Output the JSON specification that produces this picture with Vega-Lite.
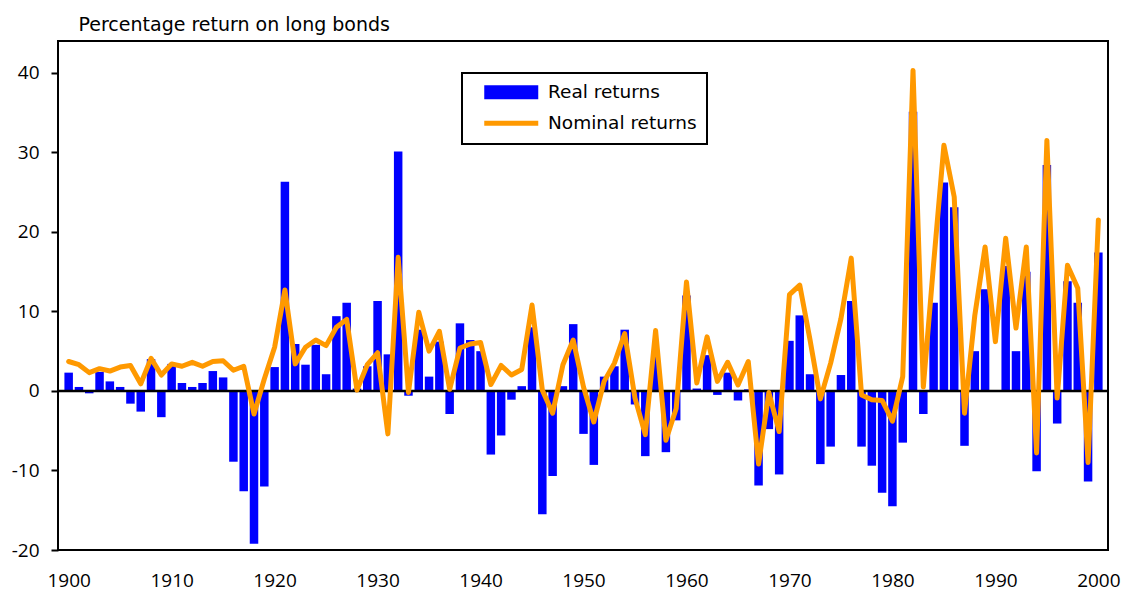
{
  "$schema": "https://vega.github.io/schema/vega-lite/v6.json",
  "width": 1050,
  "height": 509,
  "autosize": "none",
  "padding": {"left": 58, "top": 41, "right": 24, "bottom": 43},
  "background": "white",
  "config": {
    "font": "Open Sans",
    "view": {"stroke": "black", "strokeWidth": 2},
    "axis": {"labelFont": "Open Sans", "labelFontSize": 19, "labelColor": "black", "grid": false, "domain": false}
  },
  "data": {
    "values": [
      {"year": 1900, "real": 2.3, "nominal": 3.7},
      {"year": 1901, "real": 0.5, "nominal": 3.3},
      {"year": 1902, "real": -0.3, "nominal": 2.3},
      {"year": 1903, "real": 2.4, "nominal": 2.8},
      {"year": 1904, "real": 1.2, "nominal": 2.5},
      {"year": 1905, "real": 0.5, "nominal": 3.0},
      {"year": 1906, "real": -1.6, "nominal": 3.2},
      {"year": 1907, "real": -2.6, "nominal": 0.9},
      {"year": 1908, "real": 4.0, "nominal": 4.1},
      {"year": 1909, "real": -3.3, "nominal": 2.0},
      {"year": 1910, "real": 3.4, "nominal": 3.4},
      {"year": 1911, "real": 1.0, "nominal": 3.1},
      {"year": 1912, "real": 0.5, "nominal": 3.6},
      {"year": 1913, "real": 1.0, "nominal": 3.1},
      {"year": 1914, "real": 2.5, "nominal": 3.7},
      {"year": 1915, "real": 1.7, "nominal": 3.8},
      {"year": 1916, "real": -8.9, "nominal": 2.6},
      {"year": 1917, "real": -12.6, "nominal": 3.1},
      {"year": 1918, "real": -19.2, "nominal": -2.9},
      {"year": 1919, "real": -12.0, "nominal": 1.5},
      {"year": 1920, "real": 3.0, "nominal": 5.5},
      {"year": 1921, "real": 26.3, "nominal": 12.7},
      {"year": 1922, "real": 5.9, "nominal": 3.4},
      {"year": 1923, "real": 3.3, "nominal": 5.5},
      {"year": 1924, "real": 5.8, "nominal": 6.4},
      {"year": 1925, "real": 2.1, "nominal": 5.7},
      {"year": 1926, "real": 9.4, "nominal": 8.0},
      {"year": 1927, "real": 11.1, "nominal": 9.0},
      {"year": 1928, "real": 0.3, "nominal": 0.1},
      {"year": 1929, "real": 3.1, "nominal": 3.3},
      {"year": 1930, "real": 11.3, "nominal": 4.8},
      {"year": 1931, "real": 4.6, "nominal": -5.4},
      {"year": 1932, "real": 30.1, "nominal": 16.8},
      {"year": 1933, "real": -0.6, "nominal": -0.2},
      {"year": 1934, "real": 7.7, "nominal": 9.9},
      {"year": 1935, "real": 1.8, "nominal": 5.0},
      {"year": 1936, "real": 6.2, "nominal": 7.5},
      {"year": 1937, "real": -2.9, "nominal": 0.2},
      {"year": 1938, "real": 8.5, "nominal": 5.4},
      {"year": 1939, "real": 6.4, "nominal": 5.9},
      {"year": 1940, "real": 5.0, "nominal": 6.1},
      {"year": 1941, "real": -8.0, "nominal": 0.8},
      {"year": 1942, "real": -5.6, "nominal": 3.2},
      {"year": 1943, "real": -1.1, "nominal": 2.0},
      {"year": 1944, "real": 0.6, "nominal": 2.7},
      {"year": 1945, "real": 8.0, "nominal": 10.8},
      {"year": 1946, "real": -15.5, "nominal": 0.1},
      {"year": 1947, "real": -10.7, "nominal": -2.8},
      {"year": 1948, "real": 0.6, "nominal": 3.3},
      {"year": 1949, "real": 8.4, "nominal": 6.4},
      {"year": 1950, "real": -5.4, "nominal": 0.5},
      {"year": 1951, "real": -9.3, "nominal": -3.9},
      {"year": 1952, "real": 1.8, "nominal": 1.2},
      {"year": 1953, "real": 3.1, "nominal": 3.5},
      {"year": 1954, "real": 7.7, "nominal": 7.2},
      {"year": 1955, "real": -1.7, "nominal": -0.9},
      {"year": 1956, "real": -8.2, "nominal": -5.5},
      {"year": 1957, "real": 4.5, "nominal": 7.6},
      {"year": 1958, "real": -7.7, "nominal": -6.2},
      {"year": 1959, "real": -3.7, "nominal": -2.2},
      {"year": 1960, "real": 12.0, "nominal": 13.7},
      {"year": 1961, "real": 0.3, "nominal": 1.0},
      {"year": 1962, "real": 4.5, "nominal": 6.8},
      {"year": 1963, "real": -0.5, "nominal": 1.2},
      {"year": 1964, "real": 2.3, "nominal": 3.6},
      {"year": 1965, "real": -1.2, "nominal": 0.75},
      {"year": 1966, "real": 0.2, "nominal": 3.7},
      {"year": 1967, "real": -11.9, "nominal": -9.2},
      {"year": 1968, "real": -4.8, "nominal": -0.2},
      {"year": 1969, "real": -10.5, "nominal": -5.1},
      {"year": 1970, "real": 6.3, "nominal": 12.1},
      {"year": 1971, "real": 9.5, "nominal": 13.3},
      {"year": 1972, "real": 2.1, "nominal": 6.4},
      {"year": 1973, "real": -9.2, "nominal": -1.0},
      {"year": 1974, "real": -7.0, "nominal": 3.5},
      {"year": 1975, "real": 2.0, "nominal": 9.1},
      {"year": 1976, "real": 11.3, "nominal": 16.7},
      {"year": 1977, "real": -7.0, "nominal": -0.5},
      {"year": 1978, "real": -9.4, "nominal": -1.1},
      {"year": 1979, "real": -12.8, "nominal": -1.2},
      {"year": 1980, "real": -14.5, "nominal": -3.8},
      {"year": 1981, "real": -6.5, "nominal": 1.8},
      {"year": 1982, "real": 35.1, "nominal": 40.3},
      {"year": 1983, "real": -2.9, "nominal": 0.5},
      {"year": 1984, "real": 11.1, "nominal": 16.0},
      {"year": 1985, "real": 26.2, "nominal": 30.9},
      {"year": 1986, "real": 23.1, "nominal": 24.4},
      {"year": 1987, "real": -6.9, "nominal": -2.8},
      {"year": 1988, "real": 5.0, "nominal": 9.5},
      {"year": 1989, "real": 12.8, "nominal": 18.1},
      {"year": 1990, "real": 0.1, "nominal": 6.2},
      {"year": 1991, "real": 15.7, "nominal": 19.2},
      {"year": 1992, "real": 5.0, "nominal": 7.9},
      {"year": 1993, "real": 15.0, "nominal": 18.1},
      {"year": 1994, "real": -10.1, "nominal": -7.8},
      {"year": 1995, "real": 28.4, "nominal": 31.5},
      {"year": 1996, "real": -4.1, "nominal": -0.9},
      {"year": 1997, "real": 13.8, "nominal": 15.8},
      {"year": 1998, "real": 11.1, "nominal": 12.9},
      {"year": 1999, "real": -11.4, "nominal": -9.0},
      {"year": 2000, "real": 17.4, "nominal": 21.5}
    ]
  },
  "layer": [
    {
      "mark": {"type": "bar", "width": 8.5},
      "encoding": {
        "x": {
          "field": "year", "type": "quantitative",
          "scale": {"domain": [1899.45, 2000.45], "nice": false, "zero": false},
          "axis": {
            "values": [1900, 1910, 1920, 1930, 1940, 1950, 1960, 1970, 1980, 1990, 2000],
            "labelExpr": "'' + datum.value",
            "tickSize": 0, "labelPadding": 21, "title": null, "labelFlush": false
          }
        },
        "y": {
          "field": "real", "type": "quantitative",
          "scale": {"domain": [-20, 44], "nice": false},
          "axis": {
            "values": [-20, -10, 0, 10, 20, 30, 40],
            "labelExpr": "'' + datum.value",
            "tickSize": 7, "tickWidth": 2, "tickColor": "black", "labelPadding": 12,
            "title": "Percentage return on long bonds",
            "titleAngle": 0, "titleAlign": "left", "titleBaseline": "alphabetic",
            "titleX": 20, "titleY": -11, "titleFontSize": 19, "titleFontWeight": "normal",
            "titleColor": "black", "titleFont": "DejaVu Sans"
          }
        },
        "color": {
          "datum": "Real returns",
          "scale": {"domain": ["Real returns", "Nominal returns"], "range": ["#0000FF", "#FF9900"]},
          "legend": {
            "title": null,
            "orient": "none", "legendX": 404, "legendY": 32,
            "direction": "vertical",
            "symbolSize": 2916,
            "symbolOffset": 30,
            "labelFontSize": 18.5, "labelFont": "DejaVu Sans", "labelColor": "black",
            "labelOffset": 27.5, "rowPadding": 11, "padding": 10,
            "strokeColor": "black", "fillColor": "white",
            "encode": {
              "legend": {"update": {"strokeWidth": {"value": 2}}},
              "symbols": {
                "update": {
                  "size": {"value": 2916},
                  "shape": {"signal": "datum.value === 'Real returns' ? 'M-1,-0.26H1V0.26H-1Z' : 'M-1,0H1'"},
                  "fill": {"signal": "datum.value === 'Real returns' ? '#0000FF' : 'transparent'"},
                  "stroke": {"signal": "datum.value === 'Real returns' ? 'transparent' : '#FF9900'"},
                  "strokeWidth": {"signal": "datum.value === 'Real returns' ? 0 : 5"},
                  "opacity": {"value": 1}
                }
              }
            }
          }
        }
      }
    },
    {
      "data": {"values": [{}]},
      "mark": {"type": "rule", "color": "black", "strokeWidth": 2.5},
      "encoding": {"y": {"datum": 0}}
    },
    {
      "mark": {"type": "line", "strokeWidth": 5, "strokeJoin": "round", "strokeCap": "round"},
      "encoding": {
        "x": {"field": "year", "type": "quantitative"},
        "y": {"field": "nominal", "type": "quantitative"},
        "color": {"datum": "Nominal returns"}
      }
    }
  ]
}
